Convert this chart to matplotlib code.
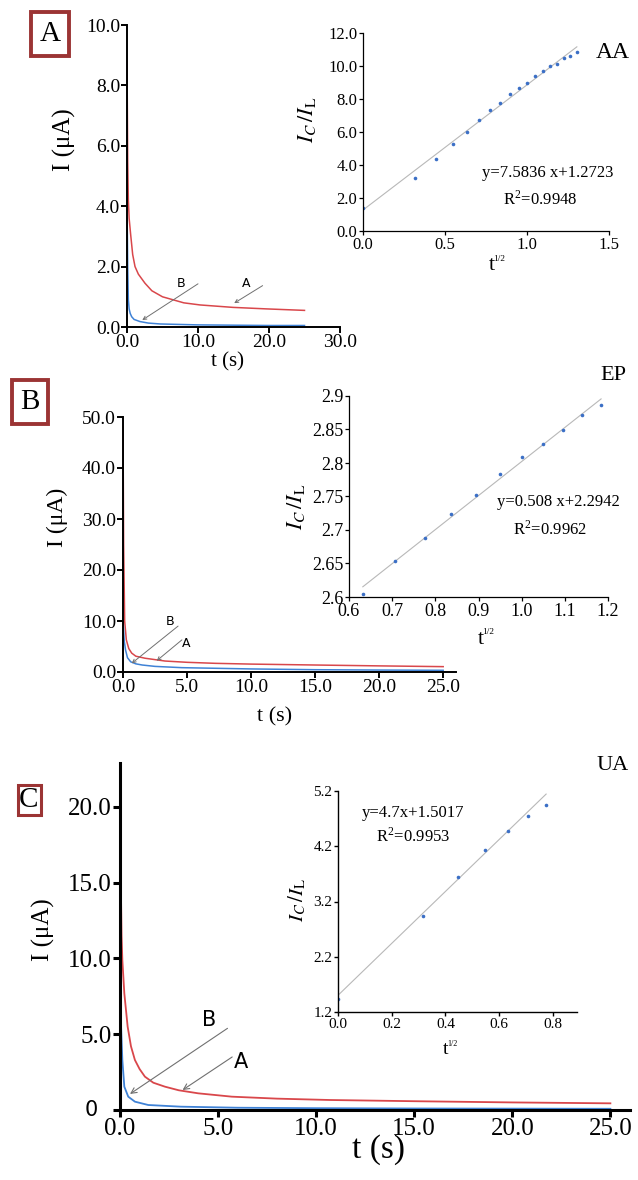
"""
Chronoamperograms (A: with analyte, B: blank) for AA, EP and UA,
with the I_C/I_L vs t^1/2 plots as insets.
"""
import matplotlib
matplotlib.use("Agg")
import matplotlib.pyplot as plt

plt.rcParams["font.family"] = ["Liberation Serif", "DejaVu Serif"]
plt.rcParams["mathtext.fontset"] = "stix"

W, H = 638, 1180
RED = "#d9474b"
BLUE = "#3f82d6"
DOT = "#3b6fc6"
FIT = "#b8b8b8"
FRAME = "#9b3434"

# ---- panel A, AA: current vs time (curve A red, curve B blue)
aa_t_A = [0, 0.1, 0.19, 0.3, 0.52, 0.8, 1.13, 1.6, 2.53, 3.5, 5, 6.5, 8, 10.3, 14.9, 19.6, 25]
aa_i_A = [8.8, 5.5, 4.2, 3.6, 3.05, 2.4, 2.0, 1.75, 1.45, 1.2, 1.0, 0.9, 0.8, 0.73, 0.65, 0.60, 0.55]
aa_t_B = [0, 0.05, 0.1, 0.19, 0.3, 0.45, 0.66, 1.0, 1.83, 3, 4.7, 10, 15, 20, 25]
aa_i_B = [3.6, 3.1, 2.0, 0.9, 0.6, 0.45, 0.34, 0.25, 0.18, 0.13, 0.10, 0.07, 0.06, 0.05, 0.05]
# inset: Ic/IL vs t^1/2
aa_x = [0, 0.316, 0.447, 0.548, 0.632, 0.707, 0.775, 0.837, 0.894,
        0.949, 1.0, 1.049, 1.095, 1.140, 1.183, 1.225, 1.265, 1.304]
aa_y = [1.38, 3.24, 4.35, 5.28, 6.03, 6.72, 7.35, 7.75, 8.28,
        8.64, 8.97, 9.39, 9.72, 9.98, 10.12, 10.47, 10.63, 10.87]
aa_fit = (7.5836, 1.2723)

# ---- panel B, EP
ep_t_A = [0, 0.05, 0.13, 0.26, 0.45, 0.68, 1.0, 1.72, 3.28, 5, 7.2, 10, 15, 20, 25]
ep_i_A = [48, 25, 10, 6.3, 4.6, 3.7, 3.1, 2.7, 2.15, 1.9, 1.7, 1.55, 1.37, 1.2, 1.05]
ep_t_B = [0, 0.03, 0.1, 0.2, 0.35, 0.6, 1.0, 1.5, 2.5, 4.6, 10, 15, 20, 25]
ep_i_B = [10, 9, 6, 4.3, 2.8, 2.0, 1.6, 1.37, 1.1, 0.85, 0.6, 0.45, 0.38, 0.33]
ep_x = [0.632, 0.707, 0.775, 0.837, 0.894, 0.949, 1.0, 1.049, 1.095, 1.140, 1.183]
ep_y = [2.604, 2.653, 2.688, 2.724, 2.752, 2.783, 2.809, 2.829, 2.849, 2.871, 2.887]
ep_fit = (0.508, 2.2942)

# ---- panel C, UA
ua_t_A = [0, 0.03, 0.08, 0.12, 0.22, 0.39, 0.56, 0.76, 1.0, 1.27, 1.7, 2.29, 3.0,
          3.99, 5.7, 8, 10.7, 15, 20, 25]
ua_i_A = [22.6, 16, 11.5, 9.9, 7.7, 5.5, 4.2, 3.3, 2.7, 2.2, 1.8, 1.54, 1.3,
          1.1, 0.88, 0.75, 0.66, 0.58, 0.50, 0.44]
ua_t_B = [0, 0.04, 0.12, 0.22, 0.42, 0.76, 1.44, 3.1, 6, 10, 15, 20, 25]
ua_i_B = [10, 6, 3.3, 1.54, 0.88, 0.55, 0.33, 0.22, 0.15, 0.12, 0.10, 0.09, 0.08]
ua_x = [0, 0.316, 0.447, 0.548, 0.632, 0.707, 0.775]
ua_y = [1.44, 2.93, 3.64, 4.13, 4.48, 4.75, 4.94]
ua_fit = (4.7, 1.5017)


def rect(l, t, r, b):
    return [l / W, 1 - b / H, (r - l) / W, (b - t) / H]


def ftext(fig, x, y, s, **kw):
    kw.setdefault("ha", "center")
    kw.setdefault("va", "center")
    return fig.text(x / W, 1 - y / H, s, **kw)


def style(ax, lw, size, length):
    for s in ("top", "right"):
        ax.spines[s].set_visible(False)
    for s in ("left", "bottom"):
        ax.spines[s].set_linewidth(lw)
    ax.tick_params(direction="out", width=lw, length=length,
                   labelsize=size, pad=1)
    ax.patch.set_alpha(0)


def arrow(ax, tail, head, lw=0.7, ms=6):
    ax.annotate("", xy=head, xytext=tail,
                arrowprops=dict(arrowstyle="->", color="#707070", lw=lw,
                                shrinkA=0, shrinkB=0, mutation_scale=ms))


def inset(fig, pos, x, y, fit, xfit, lw=0.9, size=9):
    ax = fig.add_axes(pos)
    style(ax, lw, size, 3)
    ax.plot(xfit, [fit[0] * v + fit[1] for v in xfit], color=FIT, lw=0.8)
    ax.plot(x, y, "o", color=DOT, ms=2.6, mec="none")
    return ax


def sqrt_label(fig, x, y, size):
    # "t" with a tiny 1/2 exponent, as in the original
    ftext(fig, x, y, "t", fontsize=size)
    ftext(fig, x + size * 0.45, y - size * 0.45, "1/2", fontsize=size * 0.42)


def ic_il(fig, x, y, size):
    ftext(fig, x, y, r"$I_C\,/I_{\rm L}$", fontsize=size, rotation=90)


fig = plt.figure(figsize=(W / 100, H / 100), dpi=100)
fig.patch.set_facecolor("white")

# ================= panel A =================
ax = fig.add_axes(rect(127, 25, 340, 327))
style(ax, 1.4, 14, 4)
ax.plot(aa_t_A, aa_i_A, color=RED, lw=1.1)
ax.plot(aa_t_B, aa_i_B, color=BLUE, lw=1.1)
ax.set_xlim(0, 30)
ax.set_ylim(0, 10)
ax.set_xticks([0, 10, 20, 30])
ax.set_xticklabels(["0.0", "10.0", "20.0", "30.0"])
ax.set_yticks([0, 2, 4, 6, 8, 10])
ax.set_yticklabels(["0.0", "2.0", "4.0", "6.0", "8.0", "10.0"])
arrow(ax, (10.0, 1.43), (2.15, 0.23))
arrow(ax, (19.1, 1.37), (15.1, 0.79))
ax.text(7.6, 1.45, "B", fontsize=9, family="DejaVu Sans", ha="center", va="center")
ax.text(16.8, 1.45, "A", fontsize=9, family="DejaVu Sans", ha="center", va="center")

axi = inset(fig, rect(363, 33, 609, 231), aa_x, aa_y, aa_fit, [0, 1.304], size=12)
axi.set_xlim(0, 1.5)
axi.set_ylim(0, 12)
axi.set_xticks([0, 0.5, 1.0, 1.5])
axi.set_xticklabels(["0.0", "0.5", "1.0", "1.5"])
axi.set_yticks(range(0, 13, 2))
axi.set_yticklabels([f"{v:.1f}" for v in range(0, 13, 2)])

ftext(fig, 50, 34, "A", fontsize=21,
      bbox=dict(boxstyle="square,pad=0.3", fc="white", ec=FRAME, lw=2.8))
ftext(fig, 64, 140, "I (μA)", fontsize=18, rotation=90)
ftext(fig, 228, 362, "t (s)", fontsize=15)
ic_il(fig, 307, 120, 16)
sqrt_label(fig, 492, 266, 16)
ftext(fig, 613, 52, "AA", fontsize=17)
ftext(fig, 548, 173, "y=7.5836 x+1.2723", fontsize=12)
ftext(fig, 540, 199, r"R$^{\mathregular{2}}$=0.9948", fontsize=12)

# ================= panel B =================
ax = fig.add_axes(rect(123, 417, 456, 672))
style(ax, 1.4, 14, 4)
ax.plot(ep_t_A, ep_i_A, color=RED, lw=1.1)
ax.plot(ep_t_B, ep_i_B, color=BLUE, lw=1.1)
ax.set_xlim(0, 26)
ax.set_ylim(0, 50)
ax.set_xticks([0, 5, 10, 15, 20, 25])
ax.set_xticklabels(["0.0", "5.0", "10.0", "15.0", "20.0", "25.0"])
ax.set_yticks([0, 10, 20, 30, 40, 50])
ax.set_yticklabels(["0.0", "10.0", "20.0", "30.0", "40.0", "50.0"])
arrow(ax, (4.3, 9.0), (0.68, 1.7))
arrow(ax, (4.6, 6.3), (2.63, 2.2))
ax.text(3.7, 9.9, "B", fontsize=9, family="DejaVu Sans", ha="center", va="center")
ax.text(4.95, 5.5, "A", fontsize=9, family="DejaVu Sans", ha="center", va="center")

axi = inset(fig, rect(349, 396, 608, 597), ep_x, ep_y, ep_fit, [0.632, 1.184], size=13)
axi.set_xlim(0.6, 1.2)
axi.set_ylim(2.6, 2.9)
xt = [0.6, 0.7, 0.8, 0.9, 1.0, 1.1, 1.2]
axi.set_xticks(xt)
axi.set_xticklabels([f"{v:.1f}" for v in xt])
yt = [2.6, 2.65, 2.7, 2.75, 2.8, 2.85, 2.9]
axi.set_yticks(yt)
axi.set_yticklabels([f"{v:g}" for v in yt])

ftext(fig, 30, 402, "B", fontsize=21,
      bbox=dict(boxstyle="square,pad=0.3", fc="white", ec=FRAME, lw=2.8))
ftext(fig, 57, 517, "I (μA)", fontsize=17, rotation=90)
ftext(fig, 275, 717, "t (s)", fontsize=16)
ic_il(fig, 296, 507, 16)
sqrt_label(fig, 481, 639, 16)
ftext(fig, 613, 375, "EP", fontsize=16)
ftext(fig, 558, 502, "y=0.508 x+2.2942", fontsize=12)
ftext(fig, 550, 529, r"R$^{\mathregular{2}}$=0.9962", fontsize=12)

# ================= panel C =================
ax = fig.add_axes(rect(120, 763, 630, 1110))
style(ax, 2.2, 18, 5)
ax.plot(ua_t_A, ua_i_A, color=RED, lw=1.3)
ax.plot(ua_t_B, ua_i_B, color=BLUE, lw=1.3)
ax.set_xlim(0, 26)
ax.set_ylim(0, 22.9)
ax.set_xticks([0, 5, 10, 15, 20, 25])
ax.set_xticklabels(["0.0", "5.0", "10.0", "15.0", "20.0", "25.0"])
ax.set_yticks([0, 5, 10, 15, 20])
# the zero label sits further left in the original, drawn separately below
ax.set_yticklabels(["", "5.0", "10.0", "15.0", "20.0"])
arrow(ax, (5.48, 5.39), (0.51, 1.06), lw=0.8, ms=10)
arrow(ax, (5.72, 3.5), (3.19, 1.32), lw=0.8, ms=10)
ax.text(4.55, 5.94, "B", fontsize=15, family="DejaVu Sans", ha="center", va="center")
ax.text(6.15, 3.19, "A", fontsize=15, family="DejaVu Sans", ha="center", va="center")

axi = inset(fig, rect(338, 791, 577, 1012), ua_x, ua_y, ua_fit, [0, 0.775],
            lw=1.0, size=11)
axi.set_xlim(0, 0.89)
axi.set_ylim(1.2, 5.2)
xt = [0, 0.2, 0.4, 0.6, 0.8]
axi.set_xticks(xt)
axi.set_xticklabels([f"{v:.1f}" for v in xt])
yt = [1.2, 2.2, 3.2, 4.2, 5.2]
axi.set_yticks(yt)
axi.set_yticklabels([f"{v:.1f}" for v in yt])

ftext(fig, 91, 1110, "0", fontsize=15, family="DejaVu Sans")
ftext(fig, 29, 800, "C", fontsize=21,
      bbox=dict(boxstyle="square,pad=0.06", fc="white", ec=FRAME, lw=2.2))
ftext(fig, 43, 930, "I (μA)", fontsize=18, rotation=90)
ftext(fig, 378, 1150, "t (s)", fontsize=24)
ic_il(fig, 297, 900, 15)
sqrt_label(fig, 446, 1050, 14)
ftext(fig, 613, 765, "UA", fontsize=16)
ftext(fig, 413, 813, "y=4.7x+1.5017", fontsize=12)
ftext(fig, 413, 836, r"R$^{\mathregular{2}}$=0.9953", fontsize=12)

fig.savefig("out.png", dpi=100)
